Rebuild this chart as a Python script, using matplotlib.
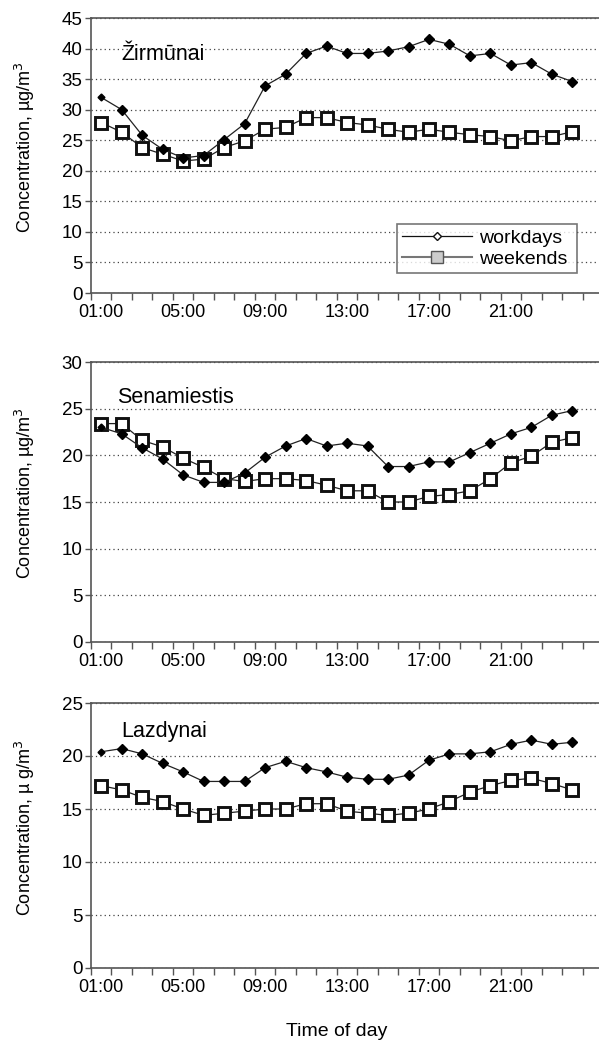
import matplotlib
matplotlib.use("Agg")
import matplotlib.pyplot as plt
from matplotlib.lines import Line2D
from matplotlib.ticker import FixedLocator, MultipleLocator

plt.rcParams['font.family'] = ['Liberation Sans', 'DejaVu Sans']

hours = list(range(1, 25))
tick_hours = [1, 5, 9, 13, 17, 21]
tick_labels = ["01:00", "05:00", "09:00", "13:00", "17:00", "21:00"]

zirmunai_work = [32.0, 30.0, 25.8, 23.5, 22.1, 22.5, 25.1, 27.7, 33.9, 35.8, 39.2, 40.4,
                 39.2, 39.2, 39.6, 40.3, 41.5, 40.7, 38.8, 39.2, 37.3, 37.7, 35.8, 34.6]
zirmunai_week = [27.9, 26.3, 23.8, 22.7, 21.6, 21.9, 23.8, 24.9, 26.8, 27.1, 28.7, 28.7,
                 27.9, 27.5, 26.8, 26.3, 26.8, 26.3, 25.9, 25.6, 24.9, 25.6, 25.6, 26.4]
senam_work = [23.0, 22.3, 20.8, 19.6, 17.9, 17.1, 17.1, 18.1, 19.8, 21.0, 21.8, 21.0,
              21.3, 21.0, 18.8, 18.8, 19.3, 19.3, 20.3, 21.3, 22.3, 23.0, 24.3, 24.8]
senam_week = [23.4, 23.4, 21.6, 20.9, 19.7, 18.7, 17.5, 17.2, 17.5, 17.5, 17.3, 16.8,
              16.2, 16.2, 15.0, 15.0, 15.6, 15.8, 16.2, 17.5, 19.2, 19.9, 21.4, 21.9]
lazd_work = [20.4, 20.7, 20.2, 19.3, 18.5, 17.6, 17.6, 17.6, 18.9, 19.5, 18.9, 18.5,
             18.0, 17.8, 17.8, 18.2, 19.6, 20.2, 20.2, 20.4, 21.1, 21.5, 21.1, 21.3]
lazd_week = [17.2, 16.8, 16.1, 15.7, 15.0, 14.4, 14.6, 14.8, 15.0, 15.0, 15.5, 15.5,
             14.8, 14.6, 14.4, 14.6, 15.0, 15.7, 16.6, 17.2, 17.7, 17.9, 17.4, 16.8]

stations = ["Žirmūnai", "Senamiestis", "Lazdynai"]
ylabels = ["Concentration, µg/m$^3$", "Concentration, µg/m$^3$", "Concentration, µ g/m$^3$"]
ymax = [45, 30, 25]
work = [zirmunai_work, senam_work, lazd_work]
week = [zirmunai_week, senam_week, lazd_week]

W, H = 599, 1041
fig = plt.figure(figsize=(W / 100, H / 100), dpi=100)
bounds = [(18, 293), (362, 642), (703, 968)]
title_pos = [(0.059, 0.847), (0.051, 0.854), (0.059, 0.872)]
left, right = 91, 599
axes = []
for (t, b) in bounds:
    ax = fig.add_axes([left / W, 1 - b / H, (right - left) / W, (b - t) / H])
    axes.append(ax)

spine_c = '#555555'
for i, ax in enumerate(axes):
    ax.plot(hours, week[i], color='#222222', lw=0.9, marker='s', ms=9,
            mfc='white', mec='#111111', mew=2.1, zorder=3)
    ax.plot(hours, work[i], color='#222222', lw=0.9, marker='D', ms=5,
            mfc='black', mec='black', markevery=list(range(1, 24)), zorder=4)
    ax.plot(hours[:1], work[i][:1], ls='none', marker='D', ms=3.5,
            mfc='black', mec='black', zorder=4)
    ax.set_ylim(0, ymax[i])
    ax.set_xlim(0.5, 25.3)
    ax.yaxis.set_major_locator(MultipleLocator(5))
    ax.grid(axis='y', ls=(0, (1, 2.5)), color='#444444', lw=0.9)
    ax.set_axisbelow(True)
    ax.set_xticks(tick_hours)
    ax.set_xticklabels(tick_labels)
    ax.xaxis.set_minor_locator(FixedLocator([h + 0.5 for h in [0] + hours]))
    ax.tick_params(axis='x', which='major', length=0, labelsize=13, pad=8, colors='black')
    ax.tick_params(axis='x', which='minor', length=5, width=1.0, color=spine_c)
    ax.tick_params(axis='y', length=4, width=1.0, color=spine_c, labelsize=13.5, pad=2)
    for s in ['left', 'bottom', 'top']:
        ax.spines[s].set_color(spine_c)
        ax.spines[s].set_linewidth(1.2)
    ax.spines['right'].set_visible(False)
    ax.set_ylabel(ylabels[i], fontsize=13)
    ax.yaxis.set_label_coords(-0.106, 0.53)
    ax.text(title_pos[i][0], title_pos[i][1], stations[i],
            transform=ax.transAxes, fontsize=15.5, ha='left', va='baseline')

handles = [Line2D([], [], color='#111111', lw=0.9, marker='D', ms=4, mfc='white', mec='#111111'),
           Line2D([], [], color='#777777', lw=1.5, marker='s', ms=8, mfc='#cccccc', mec='#555555')]
axes[0].legend(handles, ["workdays", "weekends"], loc='lower left',
               bbox_to_anchor=(0.602, 0.073, 0.355, 0.196), mode='expand',
               frameon=True, fancybox=False, edgecolor='#555555', fontsize=14,
               handlelength=3.6, borderaxespad=0, labelspacing=0.2, handletextpad=0.4,
               borderpad=0.25)
axes[0].get_legend().get_frame().set_linewidth(1.2)

fig.text(337 / W, 1 - 1032 / H, "Time of day", ha='center', va='center', fontsize=14)

fig.savefig("out.png", dpi=100)
